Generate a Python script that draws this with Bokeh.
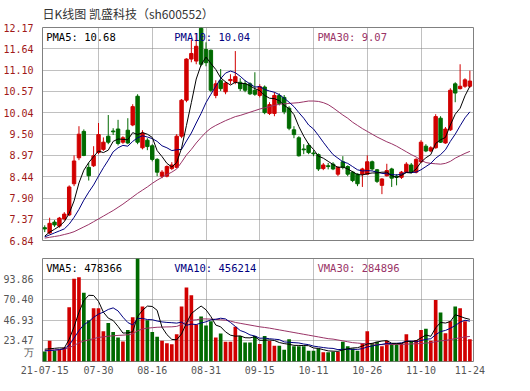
from bokeh.plotting import figure
from bokeh.models import Range1d, FixedTicker, Label, ColumnDataSource
from bokeh.layouts import column
from bokeh.embed import file_html
from bokeh.resources import INLINE

# ---------------- data ----------------
title_text = "日K线图 凯盛科技（sh600552）"

tick_idx = [0, 11, 22, 33, 44, 55, 66, 77, 87]
tick_labels = ["21-07-15", "07-30", "08-16", "08-31", "09-15", "10-11", "10-26", "11-10", "11-24"]
grid_idx = [11, 22, 33, 44, 55, 66, 77]

price_ticks = [6.84, 7.37, 7.90, 8.44, 8.97, 9.50, 10.04, 10.57, 11.10, 11.64, 12.17]
price_labels = ["6.84", "7.37", "7.90", "8.44", "8.97", "9.50", "10.04", "10.57", "11.10", "11.64", "12.17"]
vol_ticks = [23.47, 46.93, 70.40, 93.86]
vol_labels = ["23.47", "46.93", "70.40", "93.86"]
vol_unit = "万"
vol_max = 117.33

open_ = [7.16, 7.03, 7.30, 7.20, 7.38, 7.48, 8.26, 8.91, 9.57, 8.67,
         8.71, 9.04, 9.12, 9.45, 9.58, 9.63, 9.30, 9.60, 9.73, 10.45,
         9.16, 9.35, 9.21, 8.87, 8.45, 8.45, 8.64, 8.67, 9.45, 10.35,
         11.38, 11.33, 12.15, 11.62, 11.60, 10.47, 10.84, 10.56, 10.84, 10.80,
         10.80, 10.76, 10.76, 10.60, 10.47, 10.68, 10.02, 10.02, 10.47, 10.42,
         10.15, 9.61, 9.41, 9.13, 9.22, 9.03, 8.99, 8.64, 8.71, 8.75,
         8.50, 8.81, 8.69, 8.55, 8.50, 8.50, 8.50, 8.81, 8.61, 8.22,
         8.46, 8.63, 8.45, 8.42, 8.55, 8.73, 8.55, 8.81, 9.20, 9.08,
         9.16, 9.90, 9.28, 9.61, 10.76, 10.64, 10.70, 10.70]
close = [7.13, 7.27, 7.23, 7.40, 7.50, 8.18, 8.83, 9.50, 8.97, 8.46,
         8.96, 9.49, 9.30, 9.30, 9.56, 9.27, 9.41, 9.28, 10.19, 9.30,
         9.53, 9.19, 8.87, 8.55, 8.55, 8.69, 8.73, 9.45, 10.35, 11.38,
         11.52, 11.70, 11.25, 11.29, 10.60, 10.76, 10.64, 10.78, 10.87, 10.94,
         10.64, 10.60, 10.51, 10.50, 10.69, 10.04, 10.24, 10.47, 10.27, 10.06,
         9.65, 9.49, 8.96, 9.11, 9.04, 9.01, 8.63, 8.73, 8.69, 8.63,
         8.67, 8.67, 8.50, 8.34, 8.26, 8.63, 8.81, 8.63, 8.32, 8.38,
         8.59, 8.40, 8.42, 8.55, 8.75, 8.55, 8.87, 9.30, 9.08, 9.16,
         9.94, 9.30, 9.63, 10.60, 10.53, 10.70, 10.86, 10.83]
high = [7.22, 7.41, 7.35, 7.43, 7.55, 8.22, 8.97, 9.70, 9.62, 8.79,
        9.20, 9.78, 9.42, 9.98, 9.65, 9.86, 9.45, 9.90, 10.25, 10.50,
        9.60, 9.40, 9.25, 8.90, 8.60, 8.72, 8.80, 9.50, 10.38, 11.40,
        11.87, 12.03, 12.17, 11.80, 11.62, 10.85, 11.13, 10.82, 11.00, 11.58,
        10.90, 10.85, 10.80, 11.05, 10.75, 10.72, 10.30, 10.55, 10.52, 10.48,
        10.20, 9.70, 9.45, 9.25, 9.28, 9.10, 9.02, 8.78, 8.78, 8.80,
        8.70, 8.95, 8.72, 8.58, 8.52, 8.66, 8.97, 8.84, 8.63, 8.40,
        8.76, 8.66, 8.50, 8.58, 8.80, 8.78, 8.90, 9.35, 9.25, 9.20,
        10.00, 9.95, 9.68, 10.65, 10.80, 11.25, 10.90, 11.09]
low = [7.05, 7.00, 7.18, 7.16, 7.34, 7.45, 8.20, 8.85, 8.95, 8.34,
       8.68, 9.00, 9.08, 9.25, 9.48, 9.22, 9.26, 9.25, 9.70, 9.25,
       9.12, 9.10, 8.82, 8.45, 8.40, 8.42, 8.60, 8.65, 9.40, 10.30,
       11.30, 11.25, 11.20, 11.20, 10.55, 10.40, 10.58, 10.50, 10.75, 10.75,
       10.58, 10.55, 10.48, 10.46, 10.42, 10.00, 9.98, 9.95, 10.22, 10.00,
       9.60, 9.40, 8.94, 9.00, 9.00, 8.95, 8.58, 8.60, 8.62, 8.60,
       8.45, 8.62, 8.45, 8.30, 8.20, 8.18, 8.50, 8.59, 8.28, 8.00,
       8.44, 8.18, 8.22, 8.38, 8.53, 8.52, 8.52, 8.78, 9.05, 9.05,
       9.14, 9.28, 9.26, 9.58, 10.30, 10.62, 10.66, 10.66]

pma5 = [6.95, 7.05, 7.12, 7.20, 7.31, 7.52, 7.83, 8.28, 8.60, 8.79,
        8.94, 9.08, 9.04, 9.10, 9.32, 9.38, 9.37, 9.36, 9.54, 9.49,
        9.54, 9.50, 9.42, 9.09, 8.94, 8.77, 8.68, 8.79, 9.15, 9.72,
        10.29, 10.88, 11.24, 11.43, 11.27, 11.12, 10.91, 10.81, 10.73, 10.80,
        10.77, 10.77, 10.71, 10.64, 10.59, 10.47, 10.40, 10.39, 10.34, 10.22,
        10.14, 9.99, 9.69, 9.45, 9.25, 9.12, 8.95, 8.90, 8.82, 8.74,
        8.67, 8.68, 8.63, 8.56, 8.49, 8.48, 8.51, 8.53, 8.53, 8.55,
        8.55, 8.46, 8.42, 8.47, 8.54, 8.53, 8.63, 8.80, 8.91, 8.99,
        9.27, 9.36, 9.42, 9.73, 10.00, 10.15, 10.46, 10.70]
pma10 = [6.93, 6.98, 7.03, 7.08, 7.13, 7.25, 7.42, 7.62, 7.85, 8.05,
         8.23, 8.45, 8.66, 8.85, 9.06, 9.16, 9.22, 9.20, 9.32, 9.41,
         9.46, 9.43, 9.39, 9.32, 9.21, 9.16, 9.09, 9.11, 9.12, 9.33,
         9.53, 9.78, 10.02, 10.29, 10.50, 10.70, 10.89, 11.03, 11.08, 11.04,
         10.95, 10.84, 10.76, 10.68, 10.69, 10.62, 10.58, 10.55, 10.49, 10.40,
         10.30, 10.19, 10.04, 9.90, 9.73, 9.63, 9.47, 9.30, 9.14, 8.99,
         8.90, 8.81, 8.77, 8.69, 8.61, 8.58, 8.59, 8.58, 8.55, 8.52,
         8.51, 8.49, 8.48, 8.50, 8.55, 8.54, 8.55, 8.61, 8.69, 8.77,
         8.90, 8.99, 9.11, 9.32, 9.50, 9.71, 9.91, 10.06]
pma30 = [6.90, 6.92, 6.94, 6.96, 6.99, 7.02, 7.06, 7.12, 7.18, 7.24,
         7.31, 7.38, 7.45, 7.52, 7.59, 7.67, 7.75, 7.84, 7.93, 8.02,
         8.10, 8.18, 8.27, 8.35, 8.42, 8.49, 8.55, 8.63, 8.80, 8.98,
         9.12, 9.28, 9.42, 9.55, 9.65, 9.72, 9.78, 9.84, 9.89, 9.94,
         9.97, 10.01, 10.05, 10.09, 10.13, 10.16, 10.19, 10.22, 10.25, 10.26,
         10.27, 10.28, 10.29, 10.31, 10.33, 10.33, 10.32, 10.29, 10.24, 10.16,
         10.07, 9.98, 9.90, 9.80, 9.72, 9.64, 9.57, 9.50, 9.43, 9.37,
         9.31, 9.26, 9.20, 9.13, 9.06, 8.99, 8.93, 8.85, 8.79, 8.77,
         8.76, 8.75, 8.77, 8.82, 8.90, 8.96, 9.02, 9.07]

volume = [11.5, 23.5, 12.3, 13.0, 16.0, 61.8, 94.2, 96.1, 78.2, 46.9,
          60.7, 60.7, 34.6, 43.9, 33.5, 27.2, 22.7, 35.8, 50.3, 120.0,
          62.6, 46.9, 33.5, 28.3, 23.5, 20.9, 19.7, 30.9, 62.6, 84.2,
          75.6, 42.1, 51.4, 41.0, 45.8, 27.2, 32.0, 22.6, 22.6, 39.5,
          29.1, 21.6, 21.6, 29.1, 19.8, 29.1, 23.5, 17.9, 17.9, 13.4,
          25.3, 17.5, 17.5, 17.5, 12.3, 12.3, 14.9, 10.4, 10.4, 11.2,
          11.2, 22.4, 17.5, 14.9, 12.3, 20.9, 34.6, 20.9, 22.4, 17.5,
          23.5, 19.8, 19.8, 20.9, 30.9, 22.4, 24.6, 35.8, 37.3, 23.5,
          70.1, 55.9, 32.1, 45.8, 62.6, 60.7, 45.8, 25.3]
vma5 = [14.0, 14.5, 15.0, 15.5, 15.3, 25.3, 39.5, 56.2, 69.3, 75.4,
        75.2, 68.5, 56.2, 49.4, 46.7, 40.0, 32.4, 32.6, 33.9, 51.2,
        58.3, 63.1, 62.7, 58.3, 39.0, 30.6, 25.2, 24.7, 31.5, 43.7,
        54.6, 59.1, 63.2, 58.9, 51.2, 41.5, 39.5, 33.7, 30.0, 28.8,
        29.2, 27.1, 26.9, 28.2, 24.2, 24.2, 24.6, 23.9, 21.6, 20.4,
        19.6, 18.4, 18.3, 18.2, 18.0, 15.4, 14.9, 13.5, 12.1, 11.8,
        11.6, 13.1, 14.5, 15.4, 15.7, 17.6, 20.0, 20.7, 22.2, 23.3,
        23.8, 20.8, 20.6, 20.3, 23.0, 22.8, 23.7, 26.9, 30.2, 28.7,
        38.3, 44.5, 43.8, 45.5, 53.3, 51.4, 49.4, 48.0]
vma10 = [12.0, 12.5, 12.8, 13.5, 14.5, 18.6, 26.8, 35.2, 41.9, 45.4,
         50.3, 54.0, 56.2, 59.3, 61.1, 57.6, 50.5, 44.4, 41.6, 48.9,
         49.1, 47.8, 47.6, 46.1, 45.1, 44.5, 44.2, 43.7, 44.9, 41.3,
         42.6, 42.1, 43.9, 45.2, 47.4, 48.1, 49.3, 48.5, 44.5, 40.0,
         35.3, 33.3, 30.3, 29.1, 26.5, 26.7, 25.9, 25.4, 24.9, 22.3,
         21.9, 21.5, 21.1, 19.9, 19.2, 17.5, 16.7, 15.9, 15.2, 14.9,
         13.5, 14.0, 14.0, 13.8, 13.8, 14.6, 16.6, 17.6, 18.8, 19.5,
         20.7, 20.4, 20.7, 21.3, 23.1, 23.3, 22.3, 23.8, 25.3, 25.9,
         30.5, 34.1, 35.4, 37.8, 41.0, 44.8, 47.0, 45.9]
vma30 = [12.5, 13.0, 13.3, 13.6, 14.0, 15.7, 18.4, 21.2, 23.4, 24.6,
         26.0, 27.5, 28.0, 28.8, 29.3, 29.7, 30.0, 30.5, 31.5, 35.0,
         37.0, 38.0, 38.5, 39.0, 39.2, 39.4, 39.5, 40.0, 42.0, 45.0,
         47.0, 47.5, 48.5, 48.5, 48.3, 48.0, 47.5, 47.0, 46.0, 44.5,
         43.5, 42.5, 41.5, 40.5, 39.5, 38.8, 38.0, 37.0, 36.0, 35.0,
         34.0, 33.0, 32.0, 31.0, 30.0, 29.0, 28.0, 27.0, 26.0, 25.5,
         24.5, 23.5, 22.5, 21.5, 21.0, 20.5, 20.2, 20.0, 19.5, 19.2,
         19.2, 19.3, 19.5, 19.5, 19.8, 20.0, 20.2, 20.5, 21.0, 21.5,
         22.5, 23.5, 24.0, 25.0, 26.0, 27.0, 28.0, 28.5]

pma_text = ["PMA5: 10.68", "PMA10: 10.04", "PMA30: 9.07"]
vma_text = ["VMA5: 478366", "VMA10: 456214", "VMA30: 284896"]

# ---------------- styling ----------------
RED = "#d10000"
GREEN = "#006a00"
MA5_C = "#000000"
MA10_C = "#000080"
MA30_C = "#993366"
GRID_C = "#808080"
MONO = "DejaVu Sans Mono"

n = len(close)
xs = list(range(n))
colors = [RED if c >= o else GREEN for o, c in zip(open_, close)]
src = ColumnDataSource(dict(
    x=xs, o=open_, c=close, h=high, l=low,
    top=[max(o, c) for o, c in zip(open_, close)],
    bot=[min(o, c) for o, c in zip(open_, close)],
    color=colors, vol=volume,
    pma5=pma5, pma10=pma10, pma30=pma30,
    vma5=vma5, vma10=vma10, vma30=vma30,
))

X0, X1 = -0.46, 87.74


def style(p, label_color):
    p.outline_line_color = "#808080"
    p.outline_line_width = 1
    for ax in p.yaxis:
        ax.axis_line_color = None
        ax.major_tick_line_color = None
        ax.minor_tick_line_color = None
        ax.major_label_standoff = 3
        ax.major_label_text_font = MONO
        ax.major_label_text_font_size = "10px"
        ax.major_label_text_color = label_color
    for g in list(p.xgrid) + list(p.ygrid):
        g.grid_line_color = GRID_C
        g.grid_line_dash = "1 1"
        g.grid_line_width = 1
    p.background_fill_color = "white"
    p.border_fill_color = "white"


# ---------------- price panel ----------------
p1 = figure(width=500, height=250, x_range=Range1d(X0, X1), y_range=Range1d(6.84, 12.17),
            output_backend="svg", toolbar_location=None, x_axis_location=None,
            min_border_left=35, min_border_right=27, min_border_top=23, min_border_bottom=10)
p1.title.text = title_text
p1.title.text_font = "Noto Sans CJK SC"
p1.title.text_font_size = "12px"
p1.title.text_font_style = "normal"
p1.title.text_color = "#333333"
p1.title.align = "left"
p1.title.offset = 0
p1.title.standoff = 8
p1.title.vertical_align = "top"
style(p1, "#a01818")
p1.yaxis.ticker = FixedTicker(ticks=price_ticks)
p1.yaxis.major_label_overrides = {t: s for t, s in zip(price_ticks, price_labels)}
p1.ygrid.ticker = FixedTicker(ticks=price_ticks)
p1.xgrid.ticker = FixedTicker(ticks=grid_idx)

p1.segment(x0="x", y0="l", x1="x", y1="h", line_color="color", line_width=1, source=src)
p1.vbar(x="x", width=0.7, top="top", bottom="bot", fill_color="color", line_color="color",
        line_width=1, source=src)
p1.line("x", "pma30", line_color=MA30_C, line_width=1, source=src)
p1.line("x", "pma10", line_color=MA10_C, line_width=1, source=src)
p1.line("x", "pma5", line_color=MA5_C, line_width=1, source=src)

for txt, xx, col in zip(pma_text, [0.3, 26.5, 55.8], [MA5_C, MA10_C, MA30_C]):
    p1.add_layout(Label(x=xx, y=11.93, text=txt, text_font=MONO, text_font_size="10.5px",
                        text_color=col, text_baseline="middle", text_align="left"))

# ---------------- volume panel ----------------
p2 = figure(width=500, height=129, x_range=p1.x_range, y_range=Range1d(0, vol_max),
            output_backend="svg", toolbar_location=None,
            min_border_left=35, min_border_right=27, min_border_top=8, min_border_bottom=18)
style(p2, "#555555")
p2.yaxis.ticker = FixedTicker(ticks=[10.6] + vol_ticks)
p2.yaxis.major_label_overrides = dict([(10.6, vol_unit)] + list(zip(vol_ticks, vol_labels)))
p2.ygrid.ticker = FixedTicker(ticks=vol_ticks)
p2.xgrid.ticker = FixedTicker(ticks=grid_idx)
p2.xaxis.ticker = FixedTicker(ticks=tick_idx)
p2.xaxis.major_label_overrides = {t: s for t, s in zip(tick_idx, tick_labels)}
p2.xaxis.axis_line_color = None
p2.xaxis.major_tick_line_color = None
p2.xaxis.minor_tick_line_color = None
p2.xaxis.major_tick_out = 0
p2.xaxis.major_label_standoff = 4
p2.xaxis.major_label_text_font = MONO
p2.xaxis.major_label_text_font_size = "10px"
p2.xaxis.major_label_text_color = "#555555"

p2.vbar(x="x", width=0.75, top="vol", bottom=0, fill_color="color", line_color=None, source=src)
p2.line("x", "vma30", line_color=MA30_C, line_width=1, source=src)
p2.line("x", "vma10", line_color=MA10_C, line_width=1, source=src)
p2.line("x", "vma5", line_color=MA5_C, line_width=1, source=src)

for txt, xx, col in zip(vma_text, [0.3, 26.5, 55.8], [MA5_C, MA10_C, MA30_C]):
    p2.add_layout(Label(x=xx, y=106.5, text=txt, text_font=MONO, text_font_size="10.5px",
                        text_color=col, text_baseline="middle", text_align="left"))

layout = column(p1, p2, spacing=0)
open("out.html", "w").write(file_html(layout, INLINE))
